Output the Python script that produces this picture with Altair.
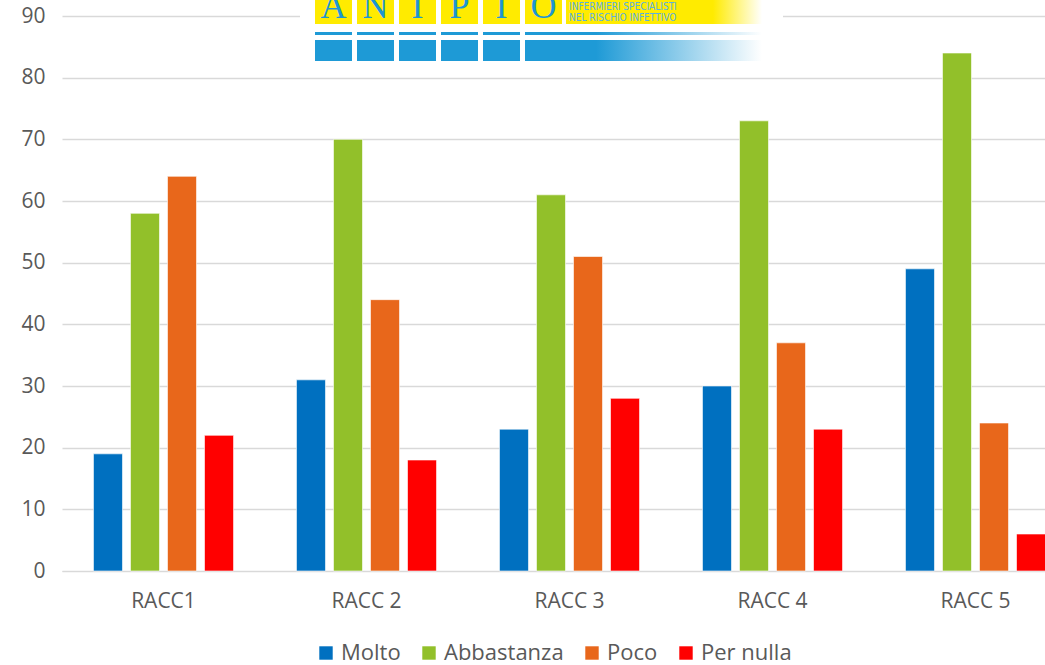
import altair as alt
import pandas as pd

categories = ["RACC1", "RACC 2", "RACC 3", "RACC 4", "RACC 5"]
series = ["Molto", "Abbastanza", "Poco", "Per nulla"]
colors = ["#0070C0", "#92C02A", "#E8671B", "#FF0000"]
molto = [19, 31, 23, 30, 49]
abbastanza = [58, 70, 61, 73, 84]
poco = [64, 44, 51, 37, 24]
per_nulla = [22, 18, 28, 23, 6]

rows = []
for i, c in enumerate(categories):
    for s, vals in zip(series, [molto, abbastanza, poco, per_nulla]):
        rows.append({"cat": c, "serie": s, "val": vals[i]})
df = pd.DataFrame(rows)

FONT = "Open Sans"
GRAY = "#595959"

bars = alt.Chart(df).mark_bar(stroke="white", strokeWidth=0.6).encode(
    x=alt.X("cat:N", sort=categories, title=None,
            scale=alt.Scale(paddingInner=0, paddingOuter=0, range=[0, 1015]),
            axis=alt.Axis(labelAngle=0, ticks=False, domainColor="#d9d9d9",
                          labelFont=FONT, labelFontSize=21, labelColor=GRAY,
                          labelPadding=19, grid=False)),
    xOffset=alt.XOffset("serie:N", sort=series,
                        scale=alt.Scale(paddingInner=0.216, paddingOuter=0.85)),
    y=alt.Y("val:Q", title=None,
            scale=alt.Scale(domain=[0, 90], nice=False),
            axis=alt.Axis(values=list(range(0, 100, 10)), domain=False, ticks=False,
                          gridColor="#d9d9d9", gridWidth=1.3,
                          labelFont=FONT, labelFontSize=21, labelColor=GRAY,
                          labelPadding=17)),
    color=alt.Color("serie:N", sort=series, title=None,
                    scale=alt.Scale(domain=series, range=colors),
                    legend=alt.Legend(orient="none", direction="horizontal",
                                      legendX=253, legendY=626,
                                      symbolType="square", symbolSize=180,
                                      symbolStrokeWidth=0,
                                      labelFont=FONT, labelFontSize=22,
                                      labelColor=GRAY, columnPadding=17,
                                      labelOffset=4)),
)

# logo decoration (pixel positions relative to plot origin)
box_x = [253, 295, 337, 379, 421, 463]
letters = ["A", "N", "I", "P", "I", "O"]
boxes = pd.DataFrame({"x": box_x, "x2": [v + 37 for v in box_x], "letter": letters})

white = alt.Chart(pd.DataFrame({"x": [238], "x2": [721], "y": [-16], "y2": [50]})).mark_rect(
    color="white").encode(
    x=alt.X("x:Q", scale=None, axis=None), x2="x2:Q",
    y=alt.Y("y:Q", scale=None, axis=None), y2="y2:Q")

yellow = alt.Chart(boxes).mark_rect(color="#FFEB00").encode(
    x=alt.X("x:Q", scale=None, axis=None), x2="x2:Q",
    y=alt.value(-16), y2=alt.value(8))

letters_t = alt.Chart(boxes).mark_text(font="Liberation Serif", fontSize=36,
                                       color="#1E96D2", baseline="alphabetic").encode(
    x=alt.X("xc:Q", scale=None, axis=None), y=alt.value(2), text="letter:N"
).transform_calculate(xc="(datum.x + datum.x2) / 2")

grad_y = alt.LinearGradient(gradient="linear", x1=0, x2=1, y1=0, y2=0,
                            stops=[alt.GradientStop(color="#FFEB00", offset=0),
                                   alt.GradientStop(color="#FFEB00", offset=0.75),
                                   alt.GradientStop(color="#FFFFFF", offset=1)])
ybox = alt.Chart(pd.DataFrame({"x": [504], "x2": [700]})).mark_rect(color=grad_y).encode(
    x=alt.X("x:Q", scale=None, axis=None), x2="x2:Q",
    y=alt.value(-16), y2=alt.value(8))

sub_t = alt.Chart(pd.DataFrame({"t": ["INFERMIERI SPECIALISTI", "NEL RISCHIO INFETTIVO"],
                                "yy": [-6, 5]})).mark_text(
    font="DejaVu Sans Condensed", fontSize=10, color="#5AB0E0", align="left",
    baseline="alphabetic").encode(
    x=alt.value(507), y=alt.Y("yy:Q", scale=None, axis=None), text="t:N")

thin = alt.Chart(boxes.iloc[:5]).mark_rect(color="#1E9AD6").encode(
    x=alt.X("x:Q", scale=None, axis=None), x2="x2:Q",
    y=alt.value(16), y2=alt.value(19))
thick = alt.Chart(boxes.iloc[:5]).mark_rect(color="#1E9AD6").encode(
    x=alt.X("x:Q", scale=None, axis=None), x2="x2:Q",
    y=alt.value(24), y2=alt.value(45))

grad_b = alt.LinearGradient(gradient="linear", x1=0, x2=1, y1=0, y2=0,
                            stops=[alt.GradientStop(color="#1E9AD6", offset=0),
                                   alt.GradientStop(color="#1E9AD6", offset=0.3),
                                   alt.GradientStop(color="#FFFFFF", offset=1)])
last = pd.DataFrame({"x": [463, 463], "x2": [700, 700], "y": [16, 24], "y2": [19, 45]})
last_b = alt.Chart(last).mark_rect(color=grad_b).encode(
    x=alt.X("x:Q", scale=None, axis=None), x2="x2:Q",
    y=alt.Y("y:Q", scale=None, axis=None), y2="y2:Q")

chart = alt.layer(bars, white, yellow, letters_t, ybox, sub_t, thin, thick, last_b).resolve_scale(
    x="independent", y="independent"
).properties(
    width=983, height=555,
    autosize=alt.AutoSizeParams(type="none"),
    padding={"left": 62, "top": 16, "right": 0, "bottom": 94},
).configure_view(stroke=None)

chart.save("out.html", embed_options={"renderer": "svg", "actions": False})
